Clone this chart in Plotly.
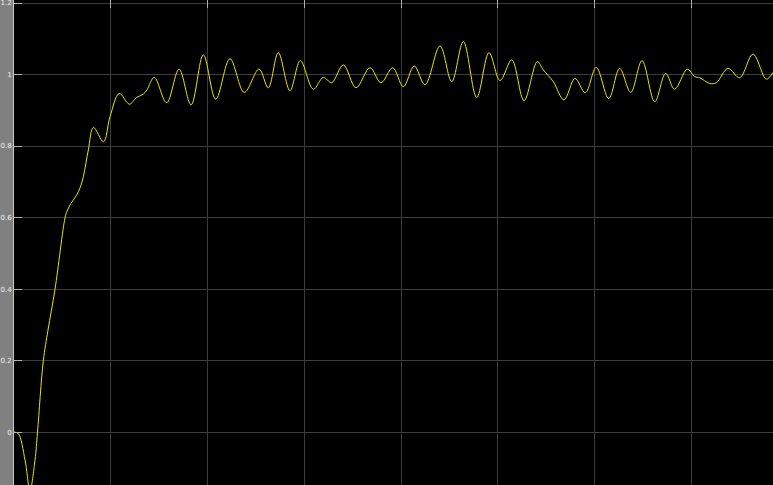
import plotly.graph_objects as go

# time (grid units) and signal value
t = [0.000, 0.044, 0.114, 0.165, 0.217, 0.243, 0.303, 0.351, 0.424, 0.527,
     0.548, 0.589, 0.648, 0.682, 0.716, 0.768, 0.821, 0.925, 0.992, 1.088,
     1.191, 1.268, 1.336, 1.374, 1.449, 1.577, 1.705, 1.829, 1.956, 2.084,
     2.231, 2.379, 2.531, 2.627, 2.730, 2.851, 2.958, 3.092, 3.195, 3.282,
     3.402, 3.533, 3.678, 3.791, 3.912, 4.022, 4.135, 4.246, 4.401, 4.522,
     4.642, 4.780, 4.907, 5.021, 5.142, 5.269, 5.406, 5.468, 5.571, 5.682,
     5.795, 5.902, 6.015, 6.144, 6.257, 6.371, 6.488, 6.619, 6.732, 6.825,
     6.956, 7.032, 7.084, 7.187, 7.255, 7.376, 7.497, 7.634, 7.772, 7.841]
v = [0.000, -0.004, -0.078, -0.162, -0.078, 0.000, 0.200, 0.285, 0.400, 0.599,
     0.618, 0.640, 0.663, 0.683, 0.714, 0.789, 0.852, 0.812, 0.882, 0.947,
     0.917, 0.936, 0.945, 0.957, 0.992, 0.921, 1.015, 0.915, 1.055, 0.931,
     1.044, 0.950, 1.015, 0.963, 1.061, 0.955, 1.039, 0.959, 0.992, 0.977,
     1.027, 0.963, 1.019, 0.977, 1.019, 0.966, 1.024, 0.971, 1.080, 0.980,
     1.092, 0.936, 1.061, 0.983, 1.041, 0.927, 1.036, 1.013, 0.980, 0.929,
     0.989, 0.949, 1.020, 0.933, 1.017, 0.950, 1.039, 0.924, 1.003, 0.959,
     1.015, 0.994, 0.991, 0.975, 0.977, 1.017, 0.991, 1.057, 0.987, 1.006]

y_ticks = [0, 0.2, 0.4, 0.6, 0.8, 1, 1.2]
y_tick_text = ["0", "0.2", "0.4", "0.6", "0.8", "1", "1.2"]
x_ticks = [1, 2, 3, 4, 5, 6, 7]

fig = go.Figure()
fig.add_trace(go.Scatter(
    x=t, y=v, mode="lines",
    line=dict(color="#e6e600", width=1, shape="spline", smoothing=1.0),
    hoverinfo="skip", showlegend=False,
))

fig.update_layout(
    width=773, height=485,
    margin=dict(l=14, r=0, t=0, b=0),
    paper_bgcolor="#808080",
    plot_bgcolor="#000000",
    showlegend=False,
    xaxis=dict(
        range=[0, 7.841], side="top",
        tickvals=x_ticks, showticklabels=False,
        ticks="inside", ticklen=8, tickcolor="#b0b0b0",
        showgrid=True, gridcolor="#3c3c3c", gridwidth=1,
        zeroline=False, showline=True, linecolor="#6a6a6a", linewidth=1,
    ),
    yaxis=dict(
        range=[-0.148, 1.2084],
        tickvals=y_ticks, ticktext=y_tick_text,
        ticks="inside", ticklen=8, tickcolor="#b0b0b0",
        ticklabeloverflow="allow",
        tickfont=dict(family="DejaVu Sans", size=7, color="#f0f0f0"),
        showgrid=True, gridcolor="#3c3c3c", gridwidth=1,
        zeroline=False, showline=True, linecolor="#c8c8c8", linewidth=1,
    ),
)

fig.write_html("out.html")
